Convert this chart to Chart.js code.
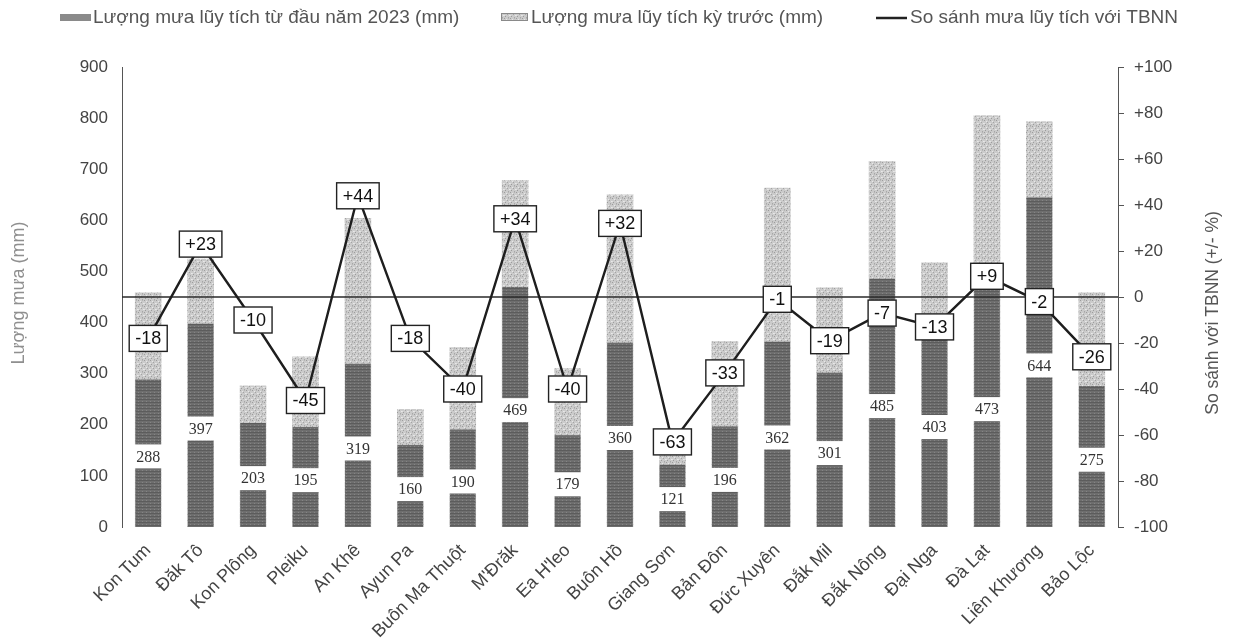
<!DOCTYPE html>
<html lang="vi">
<head>
<meta charset="utf-8">
<title>Lượng mưa lũy tích</title>
<script src="https://cdn.jsdelivr.net/npm/chart.js@4.4.1/dist/chart.umd.min.js"></script>
<style>
  html, body { margin: 0; padding: 0; background: #fff; }
  #wrap { width: 1236px; height: 644px; }
</style>
</head>
<body>
<div id="wrap"><canvas id="rainChart" width="1236" height="644"></canvas></div>
<script>
const stations = ['Kon Tum', 'Đăk Tô', 'Kon Plông', 'Pleiku', 'An Khê', 'Ayun Pa', 'Buôn Ma Thuột',
  "M'Đrăk", "Ea H'leo", 'Buôn Hồ', 'Giang Sơn', 'Bản Đôn', 'Đức Xuyên', 'Đắk Mil', 'Đắk Nông',
  'Đại Nga', 'Đà Lạt', 'Liên Khương', 'Bảo Lộc'];

// mm, accumulated since the start of 2023
const rain2023 = [288, 397, 203, 195, 319, 160, 190, 469, 179, 360, 121, 196, 362, 301, 485, 403, 473, 644, 275];
// mm, previous period
const rainPrev = [458, 524, 276, 333, 604, 230, 351, 678, 310, 650, 145, 363, 663, 468, 715, 517, 805, 793, 458];
// % compared with the long-term average
const vsAverage = [-18, 23, -10, -45, 44, -18, -40, 34, -40, 32, -63, -33, -1, -19, -7, -13, 9, -2, -26];

const mmTicks = [0, 100, 200, 300, 400, 500, 600, 700, 800, 900];
const pctTicks = [-100, -80, -60, -40, -20, 0, 20, 40, 60, 80, 100];

const legendNames = ['Lượng mưa lũy tích từ đầu năm 2023 (mm)', 'Lượng mưa lũy tích kỳ trước (mm)', 'So sánh mưa lũy tích với TBNN'];
const leftTitle = 'Lượng mưa (mm)';
const rightTitle = 'So sánh với TBNN (+/- %)';

const SANS = '"Liberation Sans", Arial, sans-serif';
const SERIF = '"Liberation Serif", "Times New Roman", serif';

// small tiles so the bars get a scanned / hatched look
function makePattern(w, h, base, marks) {
  const c = document.createElement('canvas');
  c.width = w; c.height = h;
  const g = c.getContext('2d');
  g.fillStyle = base;
  g.fillRect(0, 0, w, h);
  marks.forEach(([x, y, col]) => { g.fillStyle = col; g.fillRect(x, y, 1, 1); });
  return g.createPattern(c, 'repeat');
}
const hatchFill = makePattern(6, 6, '#cbcbcb', [
  [0, 0, '#9c9c9c'], [3, 2, '#a3a3a3'], [1, 4, '#9c9c9c'], [4, 5, '#a8a8a8'],
  [2, 1, '#e8e8e8'], [5, 3, '#e8e8e8'], [0, 3, '#e2e2e2'], [4, 0, '#b5b5b5']
]);
const darkFill = makePattern(4, 3, '#6e6e6e', [
  [0, 0, '#5c5c5c'], [1, 0, '#5c5c5c'], [2, 0, '#5c5c5c'], [3, 0, '#5c5c5c'], [2, 2, '#858585']
]);

const fmtPct = v => (v > 0 ? '+' + v : String(v));

const overlayPlugin = {
  id: 'overlay',
  afterDatasetDraw(chart, args) {
    if (args.index !== 1) return;
    const ctx = chart.ctx;
    const area = chart.chartArea;
    ctx.save();
    // value labels sitting in the middle of the 2023 bars
    ctx.font = '16px ' + SERIF;
    ctx.textAlign = 'center';
    ctx.textBaseline = 'middle';
    args.meta.data.forEach((bar, i) => {
      const mid = (bar.y + bar.base) / 2 + 3;
      ctx.fillStyle = '#ffffff';
      ctx.fillRect(bar.x - bar.width / 2 - 2, mid - 12, bar.width + 4, 24);
      ctx.fillStyle = '#333';
      ctx.fillText(String(rain2023[i]), bar.x, mid + 1);
    });
    // reference line at 0 %
    const y0 = chart.scales.y1.getPixelForValue(0);
    ctx.strokeStyle = '#2a2a2a';
    ctx.lineWidth = 1.3;
    ctx.beginPath();
    ctx.moveTo(area.left, y0);
    ctx.lineTo(area.right, y0);
    ctx.stroke();
    ctx.restore();
  },
  afterDatasetsDraw(chart) {
    const ctx = chart.ctx;
    const meta = chart.getDatasetMeta(0);
    ctx.save();
    ctx.font = '18px ' + SANS;
    ctx.textAlign = 'center';
    ctx.textBaseline = 'middle';
    meta.data.forEach((pt, i) => {
      const txt = fmtPct(vsAverage[i]);
      const w = ctx.measureText(txt).width + 12;
      const h = 26;
      ctx.fillStyle = '#fff';
      ctx.fillRect(pt.x - w / 2, pt.y - h / 2, w, h);
      ctx.strokeStyle = '#222';
      ctx.lineWidth = 1.4;
      ctx.strokeRect(pt.x - w / 2, pt.y - h / 2, w, h);
      ctx.fillStyle = '#111';
      ctx.fillText(txt, pt.x, pt.y + 1);
    });
    ctx.restore();
  },
  afterDraw(chart) {
    const ctx = chart.ctx;
    ctx.save();
    // legend
    ctx.font = '19px ' + SANS;
    ctx.textBaseline = 'middle';
    ctx.textAlign = 'left';
    ctx.fillStyle = '#8a8a8a';
    ctx.fillRect(60, 14, 31, 7);
    ctx.fillStyle = '#555';
    ctx.fillText(legendNames[0], 93, 18);

    ctx.fillStyle = hatchFill;
    ctx.fillRect(501, 13, 27, 8);
    ctx.strokeStyle = '#8a8a8a';
    ctx.lineWidth = 1;
    ctx.strokeRect(501.5, 13.5, 26, 7);
    ctx.fillStyle = '#555';
    ctx.fillText(legendNames[1], 531, 18);

    ctx.strokeStyle = '#222';
    ctx.lineWidth = 2.5;
    ctx.beginPath();
    ctx.moveTo(876, 18);
    ctx.lineTo(907, 18);
    ctx.stroke();
    ctx.fillStyle = '#555';
    ctx.fillText(legendNames[2], 910, 18);

    // axis titles, both reading bottom to top
    ctx.textAlign = 'center';
    ctx.translate(19, 293);
    ctx.rotate(-Math.PI / 2);
    ctx.font = '18px ' + SANS;
    ctx.fillStyle = '#8f8f8f';
    ctx.fillText(leftTitle, 0, 0);
    ctx.setTransform(1, 0, 0, 1, 0, 0);
    ctx.translate(1213, 313);
    ctx.rotate(-Math.PI / 2);
    ctx.font = '17.5px ' + SANS;
    ctx.fillStyle = '#555';
    ctx.fillText(rightTitle, 0, 0);
    ctx.restore();
  }
};

const chart = new Chart(document.getElementById('rainChart'), {
  type: 'bar',
  data: {
    labels: stations,
    datasets: [
      {
        type: 'line',
        label: legendNames[2],
        data: vsAverage,
        yAxisID: 'y1',
        borderColor: '#1e1e1e',
        borderWidth: 2.4,
        pointRadius: 0,
        tension: 0,
        order: 1
      },
      {
        label: legendNames[0],
        data: rain2023,
        yAxisID: 'y',
        backgroundColor: darkFill,
        grouped: false,
        barThickness: 25,
        order: 2
      },
      {
        label: legendNames[1],
        data: rainPrev,
        yAxisID: 'y',
        backgroundColor: hatchFill,
        grouped: false,
        barThickness: 26,
        order: 3
      }
    ]
  },
  options: {
    responsive: false,
    animation: false,
    layout: { padding: { top: 67, left: 0, right: 0, bottom: 0 } },
    plugins: {
      legend: { display: false },
      tooltip: { enabled: false }
    },
    scales: {
      x: {
        offset: true,
        grid: { display: false, drawTicks: false },
        border: { display: false },
        ticks: {
          autoSkip: false,
          maxRotation: 45,
          minRotation: 45,
          padding: 13,
          color: '#444',
          font: { family: SANS, size: 18 }
        },
        afterFit: s => { s.height = 117; }
      },
      y: {
        position: 'left',
        min: 0,
        max: 900,
        afterBuildTicks: s => { s.ticks = mmTicks.map(v => ({ value: v })); },
        grid: { display: false, drawTicks: false },
        border: { display: true, color: '#555', width: 1 },
        ticks: { padding: 14, color: '#444', font: { family: SANS, size: 17 } },
        afterFit: s => { s.width = 122; }
      },
      y1: {
        position: 'right',
        min: -100,
        max: 100,
        afterBuildTicks: s => { s.ticks = pctTicks.map(v => ({ value: v })); },
        grid: { display: true, drawOnChartArea: false, drawTicks: true, tickLength: 6, color: '#555' },
        border: { display: true, color: '#555', width: 1 },
        ticks: { padding: 10, color: '#444', font: { family: SANS, size: 17 }, callback: v => fmtPct(v) },
        afterFit: s => { s.width = 118; }
      }
    }
  },
  plugins: [overlayPlugin]
});
</script>
</body>
</html>
